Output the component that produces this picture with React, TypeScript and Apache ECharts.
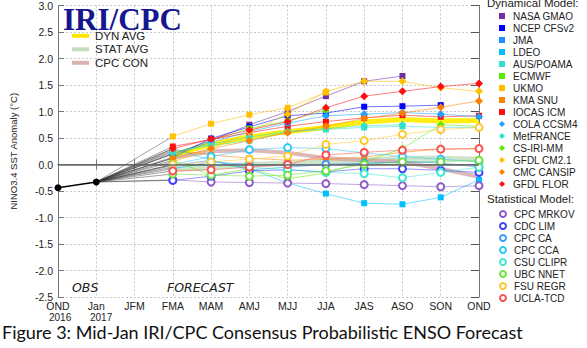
import React, { useEffect, useRef } from 'react';
import * as echarts from 'echarts';

const categories = ['OND', 'Jan', 'JFM', 'FMA', 'MAM', 'AMJ', 'MJJ', 'JJA', 'JAS', 'ASO', 'SON', 'OND'];
const yTickMin = -2.5;
const yTickMax = 3.0;
const yTickStep = 0.5;

const obsValues = [-0.44, -0.33];

// forecasts, FMA .. OND
const dynNames = ['NASA GMAO', 'NCEP CFSv2', 'JMA', 'LDEO', 'AUS/POAMA', 'ECMWF', 'UKMO', 'KMA SNU', 'IOCAS ICM',
  'COLA CCSM4', 'MetFRANCE', 'CS-IRI-MM', 'GFDL CM2.1', 'CMC CANSIP', 'GFDL FLOR'];
const dynColors = ['#7030a0', '#0000ff', '#1e90ff', '#00bfff', '#33e0d0', '#55ee00', '#ffc000', '#ff8000', '#ff1010',
  '#1ea0ff', '#33e0d0', '#55ee00', '#ffc000', '#ff8000', '#ff1010'];
const nasaGmao = [0.2, 0.45, 0.75, 1.0, 1.29, 1.57, 1.67, null, null];
const ncepCfsv2 = [0.14, 0.49, 0.71, 0.92, 0.97, 1.09, 1.1, 1.12, null];
const jma = [-0.02, 0.08, -0.1, -0.05, 0.0, 0.02, 0.05, 0.05, null];
const ldeo = [0.3, 0.08, -0.08, -0.35, -0.55, -0.73, -0.75, -0.62, -0.29];
const ausPoama = [0.25, 0.36, 0.45, 0.62, 0.66, 0.7, 0.72, 0.7, 0.7];
const ecmwf = [0.12, 0.45, 0.68, 0.82, 1.03, null, null, null, null];
const ukmo = [0.53, 0.77, 0.94, 1.07, 1.36, null, null, null, null];
const kmaSnu = [0.27, 0.18, 0.12, 0.08, 0.1, 0.14, 0.23, 0.29, 0.3];
const iocasIcm = [0.34, 0.47, 0.6, 0.72, 0.81, 0.88, 0.93, 0.9, 0.92];
const colaCcsm4 = [0.2, 0.42, 0.62, 0.78, 0.92, 0.95, 0.98, 0.95, 0.9];
const metFrance = [0.22, 0.38, 0.52, 0.62, 0.68, 0.73, 0.75, null, null];
const csIriMm = [0.08, -0.2, -0.08, -0.27, -0.16, 0.05, 0.3, 0.75, 0.72];
const gfdlCm21 = [0.05, 0.3, 0.62, 0.95, 1.38, 1.57, 1.57, 1.45, 1.38];
const cmcCansip = [0.12, 0.3, 0.45, 0.6, 0.72, 0.87, 0.97, 1.08, 1.2];
const gfdlFlor = [0.3, 0.48, 0.65, 0.81, 1.07, 1.29, 1.38, 1.47, 1.53];
const dynValues = [nasaGmao, ncepCfsv2, jma, ldeo, ausPoama, ecmwf, ukmo, kmaSnu, iocasIcm,
  colaCcsm4, metFrance, csIriMm, gfdlCm21, cmcCansip, gfdlFlor];

const statNames = ['CPC MRKOV', 'CDC LIM', 'CPC CA', 'CPC CCA', 'CSU CLIPR', 'UBC NNET', 'FSU REGR', 'UCLA-TCD'];
const statColors = ['#8e5cc8', '#4040ff', '#3c9cff', '#30c8ff', '#40e8d0', '#70e040', '#ffc830', '#ff5050'];
const cpcMrkov = [-0.29, -0.33, -0.34, -0.35, -0.36, -0.38, -0.4, -0.42, -0.4];
const cdcLim = [-0.3, -0.22, -0.12, -0.1, -0.14, -0.08, -0.08, -0.11, -0.15];
const cpcCa = [-0.08, 0.05, 0.0, 0.0, 0.0, 0.02, 0.05, 0.03, -0.05];
const cpcCca = [0.0, 0.15, 0.28, 0.32, 0.3, 0.22, 0.15, 0.1, 0.05];
const csuClipr = [-0.05, 0.0, -0.05, -0.1, -0.15, -0.17, -0.25, -0.15, -0.05];
const ubcNnet = [-0.18, -0.2, -0.22, -0.2, -0.12, 0.0, 0.05, 0.05, 0.08];
const fsuRegr = [0.0, 0.05, 0.1, 0.16, 0.38, 0.45, 0.57, 0.66, 0.7];
const uclaTcd = [-0.12, -0.1, -0.05, 0.0, 0.18, 0.23, 0.27, 0.29, 0.3];
const statValues = [cpcMrkov, cdcLim, cpcCa, cpcCca, csuClipr, ubcNnet, fsuRegr, uclaTcd];

const dynAvg = [0.18, 0.38, 0.52, 0.62, 0.7, 0.8, 0.85, 0.82, 0.83];
const statAvg = [-0.1, -0.05, 0.0, 0.02, 0.05, 0.08, 0.12, 0.12, 0.1];
const cpcCon = [0.12, 0.25, 0.27, 0.22, 0.12, 0.08, 0.05, -0.08, -0.23];

const FONT = 'Liberation Sans, Arial, sans-serif';

export default function App() {
  const ref = useRef<HTMLDivElement>(null);
  useEffect(() => {
    const chart = echarts.init(ref.current!, null, { renderer: 'svg' });
    const pad = (vals: (number | null)[]) => [null, null, null, ...vals];

    const series: any[] = [];
    const allModels = [
      ...dynNames.map((n, i) => ({ name: n, vals: dynValues[i], color: dynColors[i], symbol: i < 9 ? 'rect' : 'diamond' })),
      ...statNames.map((n, i) => ({ name: n, vals: statValues[i], color: statColors[i], symbol: 'emptyCircle' })),
    ];
    // fan lines from last observation to first forecast
    allModels.forEach((m) => {
      const d: (number | null)[] = categories.map(() => null);
      d[1] = obsValues[1];
      d[3] = m.vals[0];
      series.push({
        type: 'line', data: d, connectNulls: true, symbol: 'none', silent: true, z: 1,
        lineStyle: { color: '#333', width: 0.7, opacity: 0.65 },
      });
    });
    // averages
    series.push({ name: 'STAT AVG', type: 'line', data: pad(statAvg), showSymbol: false, z: 2, color: '#c3dfbd',
      lineStyle: { color: '#c3dfbd', width: 5, opacity: 0.85 } });
    series.push({ name: 'CPC CON', type: 'line', data: pad(cpcCon), showSymbol: false, z: 2, color: '#d9b2b2',
      lineStyle: { color: '#d3a8a8', width: 4, opacity: 0.8 } });
    series.push({ name: 'DYN AVG', type: 'line', data: pad(dynAvg), showSymbol: false, z: 2, color: '#ffe800',
      lineStyle: { color: '#ffee10', width: 5 } });
    allModels.forEach((m) => {
      series.push({
        name: m.name, type: 'line', data: pad(m.vals), symbol: m.symbol,
        symbolSize: m.symbol === 'diamond' ? 8 : m.symbol === 'rect' ? 6 : 7,
        color: m.color, z: 3,
        itemStyle: { color: m.color, borderColor: m.color, borderWidth: m.symbol === 'emptyCircle' ? 1.6 : 0 },
        lineStyle: { color: m.color, width: 1, opacity: 0.55 },
      });
    });
    series.push({
      name: 'OBS', type: 'line', data: [...obsValues, ...categories.slice(2).map(() => null)],
      symbol: 'circle', symbolSize: 7, color: '#000', z: 4,
      itemStyle: { color: '#000' }, lineStyle: { color: '#000', width: 1.5 },
      markLine: { silent: true, symbol: 'none', label: { show: false }, animation: false,
        lineStyle: { color: '#666', width: 1.5, type: 'solid' }, data: [{ yAxis: 0 }] },
    });

    const legendText = { fontFamily: FONT, fontSize: 10, color: '#222', lineHeight: 12, padding: [0, 0, 0, 3] };
    const option: any = {
      animation: false,
      backgroundColor: '#fff',
      grid: { left: 49, right: 108, top: 1, bottom: 51 },
      xAxis: [
        {
          type: 'category', data: categories, boundaryGap: false,
          axisLine: { lineStyle: { color: '#777', width: 1 } },
          axisTick: { inside: true, length: 5, alignWithLabel: true, lineStyle: { color: '#777' } },
          axisLabel: { fontFamily: FONT, fontSize: 10.5, color: '#222', margin: 3, interval: 0 },
          splitLine: { show: true, lineStyle: { color: '#c8c8c8', type: [2, 2] } },
        },
        {
          type: 'category', data: categories, boundaryGap: false, position: 'top',
          axisLine: { show: true, lineStyle: { color: '#777' } },
          axisTick: { show: true, inside: true, length: 5, lineStyle: { color: '#777' } },
          axisLabel: { show: false }, splitLine: { show: false },
        },
      ],
      yAxis: [
        {
          type: 'value', min: yTickMin, max: yTickMax, interval: yTickStep,
          name: 'NINO3.4 SST Anomaly (°C)', nameLocation: 'middle', nameGap: 40,
          nameTextStyle: { fontFamily: FONT, fontSize: 9.5, color: '#222' },
          axisLine: { show: true, lineStyle: { color: '#777' } },
          axisTick: { show: true, inside: true, length: 6, lineStyle: { color: '#777' } },
          axisLabel: { fontFamily: FONT, fontSize: 10.5, color: '#222', margin: 5, formatter: (v: number) => v.toFixed(1) },
          splitLine: { show: true, lineStyle: { color: '#c8c8c8', type: [2, 2] } },
        },
        {
          type: 'value', min: yTickMin, max: yTickMax, interval: yTickStep, position: 'right',
          axisLine: { show: true, lineStyle: { color: '#777' } },
          axisTick: { show: true, inside: true, length: 8, lineStyle: { color: '#555' } },
          axisLabel: { show: false }, splitLine: { show: false },
        },
      ],
      legend: [
        {
          orient: 'vertical', left: 494, top: 5, itemWidth: 6, itemHeight: 6, itemGap: 0,
          selectedMode: false, textStyle: legendText,
          data: dynNames.map((n, i) => ({ name: n, icon: i < 9 ? 'rect' : 'diamond' })),
        },
        {
          orient: 'vertical', left: 494, top: 203, itemWidth: 6, itemHeight: 6, itemGap: 0,
          selectedMode: false, textStyle: legendText, itemStyle: { borderWidth: 1.2 },
          data: statNames.map((n) => ({ name: n, icon: 'emptyCircle' })),
        },
        {
          orient: 'vertical', left: 67, top: 24, itemWidth: 17, itemHeight: 4, itemGap: 0,
          selectedMode: false,
          textStyle: { fontFamily: FONT, fontSize: 11.5, color: '#222', lineHeight: 13.5, padding: [0, 0, 0, 1] },
          data: [{ name: 'DYN AVG', icon: 'rect' }, { name: 'STAT AVG', icon: 'rect' }, { name: 'CPC CON', icon: 'rect' }],
        },
      ],
      graphic: [
        { type: 'text', left: 63, top: 4, z: 10,
          style: { text: 'IRI/CPC', font: 'bold 31px "Liberation Serif", "Times New Roman", serif', fill: '#161690', lineHeight: 26 } },
        { type: 'text', left: 487, top: -3, z: 10,
          style: { text: 'Dynamical Model:', font: '11.5px ' + FONT, fill: '#222' } },
        { type: 'text', left: 487, top: 193, z: 10,
          style: { text: 'Statistical Model:', font: '11.5px ' + FONT, fill: '#222' } },
        { type: 'text', left: 72, top: 281, z: 10,
          style: { text: 'OBS', font: 'italic 12.5px "DejaVu Sans", sans-serif', fill: '#222' } },
        { type: 'text', left: 167, top: 281, z: 10,
          style: { text: 'FORECAST', font: 'italic 12.5px "DejaVu Sans", sans-serif', fill: '#222' } },
        { type: 'text', left: 49, top: 312, z: 10,
          style: { text: '2016', font: '10px ' + FONT, fill: '#222', lineHeight: 11 } },
        { type: 'text', left: 90, top: 312, z: 10,
          style: { text: '2017', font: '10px ' + FONT, fill: '#222', lineHeight: 11 } },
        { type: 'text', left: 2, top: 323, z: 10,
          style: { text: 'Figure 3: Mid-Jan IRI/CPC Consensus Probabilistic ENSO Forecast', font: '18px Lato, sans-serif', fill: '#111', lineHeight: 18 } },
      ],
      series,
    };
    chart.setOption(option);
    return () => chart.dispose();
  }, []);
  return <div ref={ref} style={{ position: 'absolute', left: 0, top: 0, width: 587, height: 348 }} />;
}
